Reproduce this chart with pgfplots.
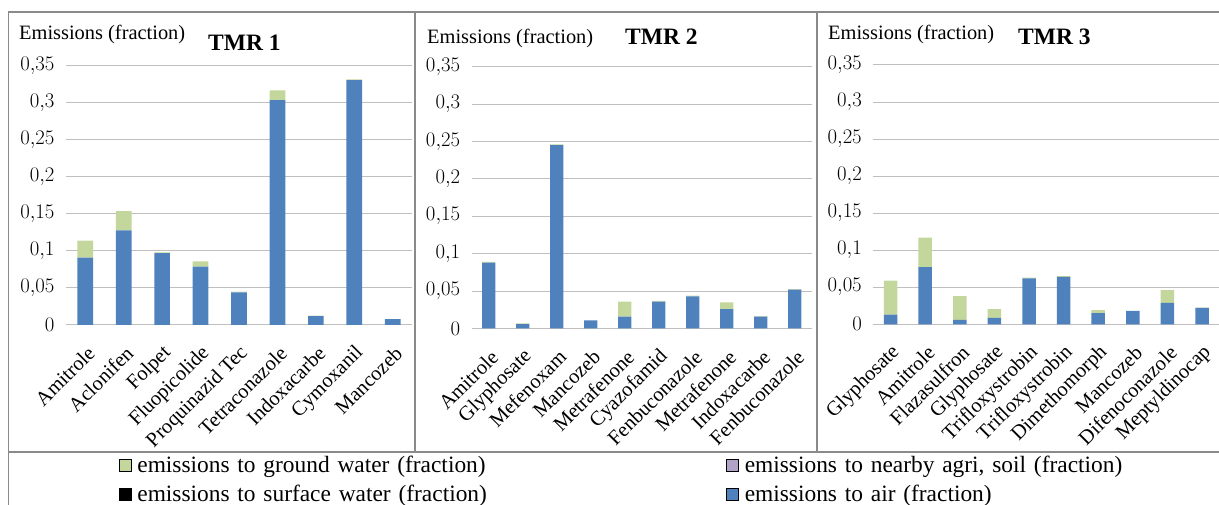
\documentclass[border=0pt]{standalone}
\usepackage{pgfplots}
\usepackage{pgfplotstable}
\pgfplotsset{compat=1.18}
\usepackage{fontspec}
\setmainfont{Liberation Serif}

\definecolor{air}{HTML}{4F81BD}
\definecolor{gw}{HTML}{C3D69B}
\definecolor{soil}{HTML}{B3A2C7}
\definecolor{frame}{HTML}{8A8A8A}
\definecolor{gridc}{HTML}{BFBFBF}

% emissions (fraction): air, ground water
\pgfplotstableread{
x air gw name
0 0.091 0.023 Amitrole
1 0.128 0.026 Aclonifen
2 0.097 0.001 Folpet
3 0.079 0.007 Fluopicolide
4 0.044 0.001 {Proquinazid Tec}
5 0.304 0.013 Tetraconazole
6 0.012 0.0005 Indoxacarbe
7 0.331 0.001 Cymoxanil
8 0.008 0.0 Mancozeb
}\tmrA

\pgfplotstableread{
x air gw name
0 0.088 0.001 Amitrole
1 0.006 0.001 Glyphosate
2 0.245 0.001 Mefenoxam
3 0.011 0.0 Mancozeb
4 0.016 0.020 Metrafenone
5 0.036 0.001 Cyazofamid
6 0.043 0.001 Fenbuconazole
7 0.026 0.009 Metrafenone
8 0.016 0.0005 Indoxacarbe
9 0.052 0.0005 Fenbuconazole
}\tmrB

\pgfplotstableread{
x air gw name
0 0.013 0.046 Glyphosate
1 0.077 0.040 Amitrole
2 0.006 0.032 Flazasulfron
3 0.0085 0.012 Glyphosate
4 0.062 0.001 Trifloxystrobin
5 0.064 0.001 Trifloxystrobin
6 0.015 0.004 Dimethomorph
7 0.018 0.0 Mancozeb
8 0.029 0.017 Difenoconazole
9 0.022 0.0005 Meptyldinocap
}\tmrC

\pgfplotsset{
  tmr/.style={
    scale only axis, anchor=south west,
    ybar stacked,
    enlarge x limits=false,
    ymin=0, ymax=0.35,
    ytick={0,0.05,0.1,0.15,0.2,0.25,0.3,0.35},
    scaled y ticks=false,
    yticklabel={\pgfmathprintnumber[fixed, use comma]{\tick}},
    xtick=data,
    ymajorgrids,
    major grid style={gridc, line width=1pt},
    axis line style={draw=none},
    tick style={draw=none},
    yticklabel style={font=\fontsize{21}{24}\selectfont, xshift=-8pt},
    xticklabel style={font=\fontsize{20.5}{24}\selectfont, inner sep=0pt,
      xshift=6pt, yshift=-25pt, rotate=45, anchor=east},
  }
}

\begin{document}
\begin{tikzpicture}[x=1pt,y=1pt]
\useasboundingbox (0,0) rectangle (1219,505);

% panel frames and legend box
\draw[frame, line width=1.2pt] (8.5,-5) -- (8.5,493) -- (1230,493);
\draw[frame, line width=1.2pt] (415,53) -- (415,493) (817,53) -- (817,493) (8.5,53) -- (1230,53);

\node[anchor=west, inner sep=0pt, font=\fontsize{20.4}{24}\selectfont] at (19,471) {Emissions (fraction)};
\node[anchor=west, inner sep=0pt, font=\fontsize{23.5}{28}\selectfont\bfseries] at (208,462) {TMR 1};
\node[anchor=west, inner sep=0pt, font=\fontsize{20.4}{24}\selectfont] at (427,467) {Emissions (fraction)};
\node[anchor=west, inner sep=0pt, font=\fontsize{23.5}{28}\selectfont\bfseries] at (625,468) {TMR 2};
\node[anchor=west, inner sep=0pt, font=\fontsize{20.4}{24}\selectfont] at (828,471) {Emissions (fraction)};
\node[anchor=west, inner sep=0pt, font=\fontsize{23.5}{28}\selectfont\bfseries] at (1018,468) {TMR 3};

\begin{axis}[tmr, at={(66pt,180pt)}, width=346pt, height=259pt,
  bar width=15.7pt, xmin=-0.5, xmax=8.5,
  xticklabels from table={\tmrA}{name}]
\addplot[fill=air, draw=none] table[x=x, y=air] {\tmrA};
\addplot[fill=gw, draw=none] table[x=x, y=gw] {\tmrA};
\end{axis}

\begin{axis}[tmr, at={(471.7pt,176.5pt)}, width=340pt, height=261.8pt,
  bar width=13.3pt, xmin=-0.5, xmax=9.5,
  xticklabels from table={\tmrB}{name}]
\addplot[fill=air, draw=none] table[x=x, y=air] {\tmrB};
\addplot[fill=gw, draw=none] table[x=x, y=gw] {\tmrB};
\end{axis}

\begin{axis}[tmr, at={(873.3pt,180.7pt)}, width=346pt, height=259.3pt,
  bar width=13.5pt, xmin=-0.5, xmax=9.5,
  xticklabels from table={\tmrC}{name}]
\addplot[fill=air, draw=none] table[x=x, y=air] {\tmrC};
\addplot[fill=gw, draw=none] table[x=x, y=gw] {\tmrC};
\end{axis}

% legend, in an empty axis over the whole picture
\begin{axis}[at={(0pt,0pt)}, anchor=south west, scale only axis,
  width=1219pt, height=505pt, hide axis,
  xmin=0, xmax=1, ymin=0, ymax=1,
  legend columns=2, legend cell align=left,
  legend image code/.code={\fill[#1] (0pt,-6pt) rectangle (12pt,6pt);},
  legend style={at={(0.0976,0.101)}, anchor=north west, draw=none, fill=none,
    inner sep=0pt, outer sep=0pt, row sep=6pt,
    font=\fontsize{23.4}{28}\selectfont,
    /tikz/every odd column/.append style={column sep=4pt},
    /tikz/every even column/.append style={text width=587pt, text height=17pt,
      text depth=5pt, inner sep=0pt}}]
\addlegendimage{fill=gw}
\addlegendentry{emissions to ground water (fraction)}
\addlegendimage{fill=soil}
\addlegendentry{emissions to nearby agri, soil (fraction)}
\addlegendimage{fill=black}
\addlegendentry{emissions to surface water (fraction)}
\addlegendimage{fill=air}
\addlegendentry{emissions to air (fraction)}
\end{axis}
\end{tikzpicture}
\end{document}
